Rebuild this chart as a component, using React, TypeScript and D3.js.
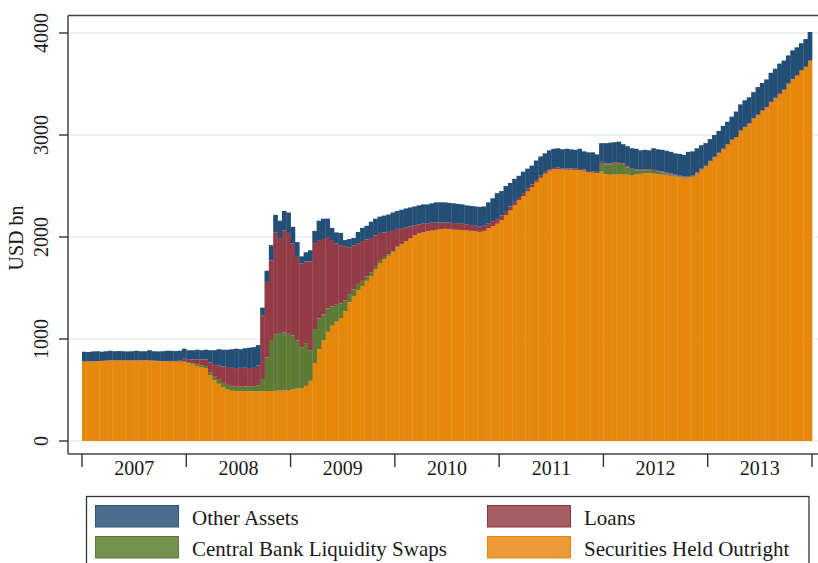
import React from 'react';
import * as d3 from 'd3';

// Semi-monthly observations, Jan 2007 – Dec 2013 (24 per year), USD bn
const years = ['2007', '2008', '2009', '2010', '2011', '2012', '2013'];
const periodsPerYear = 24;
const yTicks = [0, 1000, 2000, 3000, 4000];

const securities = [
  779, 780, 781, 782, 785, 787, 790, 791, 791, 790, 790, 790, 790, 791, 790, 789, 785, 782, 780, 780, 780, 780, 779, 772,
  762, 748, 735, 725, 715, 645, 595, 560, 525, 505, 492, 488, 487, 487, 487, 487, 487, 488, 490, 490, 492, 494, 496, 500,
  505, 515, 520, 540, 590, 765, 900, 990, 1070, 1130, 1170, 1205, 1270, 1360, 1420, 1480, 1520, 1570, 1615, 1680, 1745, 1780, 1815, 1850,
  1900, 1930, 1960, 1990, 2015, 2035, 2045, 2055, 2062, 2070, 2078, 2080, 2075, 2072, 2070, 2068, 2065, 2060, 2055, 2050, 2060, 2085, 2105, 2130,
  2165, 2215, 2260, 2310, 2360, 2400, 2445, 2490, 2535, 2580, 2620, 2650, 2662, 2665, 2662, 2660, 2660, 2658, 2655, 2650, 2635, 2630, 2625, 2640,
  2615, 2610, 2612, 2615, 2618, 2612, 2608, 2612, 2620, 2625, 2625, 2620, 2615, 2612, 2610, 2600, 2592, 2585, 2580, 2582, 2590, 2620, 2660, 2690,
  2740, 2780, 2820, 2860, 2905, 2950, 2975, 3040, 3075, 3110, 3160, 3195, 3235, 3270, 3320, 3360, 3400, 3440, 3500, 3545, 3580, 3630, 3665, 3725,
];

const swaps = [
  0, 0, 0, 0, 0, 0, 0, 0, 0, 0, 0, 0, 0, 0, 0, 0, 0, 0, 0, 0, 0, 0, 0, 10,
  12, 12, 15, 15, 20, 30, 35, 40, 45, 45, 45, 45, 45, 48, 50, 50, 60, 120, 330, 500, 555, 565, 570, 550,
  530, 470, 400, 420, 300, 325, 300, 250, 230, 190, 165, 145, 110, 80, 65, 60, 50, 45, 40, 35, 30, 25, 15, 10,
  5, 2, 0, 0, 0, 0, 0, 0, 0, 0, 0, 0, 0, 0, 0, 0, 0, 0, 0, 0, 0, 0, 0, 0,
  0, 0, 0, 0, 0, 0, 0, 0, 0, 0, 0, 0, 0, 0, 0, 0, 0, 0, 0, 0, 0, 0, 2, 85,
  95, 100, 105, 108, 90, 70, 50, 40, 30, 28, 30, 28, 25, 20, 15, 12, 10, 8, 6, 5, 4, 3, 2, 2,
  1, 1, 1, 0, 0, 0, 0, 0, 0, 0, 0, 0, 0, 0, 0, 0, 0, 0, 0, 0, 0, 0, 0, 0,
];

const loans = [
  1, 1, 1, 1, 1, 1, 1, 1, 1, 1, 1, 1, 1, 1, 3, 5, 5, 4, 4, 4, 5, 5, 8, 30,
  28, 40, 50, 60, 65, 95, 125, 140, 160, 175, 180, 182, 185, 183, 178, 180, 195, 620, 740, 780, 1000, 930, 1000, 990,
  900, 820, 820, 800, 870, 850, 770, 740, 700, 650, 600, 570, 530, 460, 430, 400, 390, 360, 335, 300, 265, 240, 220, 200,
  175, 155, 135, 115, 100, 90, 85, 80, 78, 72, 65, 62, 65, 65, 65, 62, 60, 58, 55, 52, 50, 50, 50, 48,
  45, 40, 38, 35, 32, 30, 28, 25, 22, 20, 18, 15, 15, 15, 12, 12, 12, 12, 12, 12, 12, 12, 12, 12,
  12, 12, 12, 12, 12, 12, 12, 10, 10, 10, 10, 10, 10, 10, 10, 10, 8, 8, 8, 8, 8, 8, 8, 6,
  6, 5, 5, 5, 5, 5, 5, 5, 5, 5, 5, 5, 5, 5, 5, 5, 5, 5, 5, 5, 5, 5, 5, 5,
];

const other = [
  95, 91, 96, 97, 90, 92, 94, 88, 90, 89, 87, 89, 94, 88, 87, 96, 90, 92, 96, 101, 100, 97, 98, 93,
  88, 90, 95, 90, 95, 120, 135, 160, 165, 170, 183, 190, 183, 192, 200, 203, 198, 80, 110, 150, 170, 170, 190, 200,
  165, 145, 70, 90, 110, 120, 190, 200, 180, 120, 110, 120, 60, 80, 75, 110, 130, 135, 160, 165, 160, 165, 170, 180,
  175, 180, 185, 185, 185, 185, 190, 185, 190, 198, 197, 198, 195, 193, 190, 190, 185, 187, 190, 193, 190, 205, 225, 252,
  240, 245, 232, 225, 208, 210, 197, 185, 193, 190, 182, 185, 188, 190, 186, 193, 188, 185, 198, 178, 183, 188, 171, 183,
  198, 203, 201, 200, 190, 196, 200, 203, 190, 192, 185, 212, 210, 213, 210, 213, 210, 214, 211, 240, 238, 239, 230, 222,
  213, 214, 214, 225, 220, 225, 250, 255, 260, 255, 255, 270, 270, 270, 285, 285, 295, 285, 275, 280, 275, 265, 270, 280,
];

const seriesKeys = ['securities', 'swaps', 'loans', 'other'];
const barColors: Record<string, string> = {
  securities: '#e5870b',
  swaps: '#5d7b36',
  loans: '#933b46',
  other: '#234f77',
};
const legendItems = [
  { key: 'other', label: 'Other Assets', fill: '#4a6d8e', stroke: '#2a557c' },
  { key: 'loans', label: 'Loans', fill: '#a55e63', stroke: '#8e3642' },
  { key: 'swaps', label: 'Central Bank Liquidity Swaps', fill: '#76904f', stroke: '#5d7b36' },
  { key: 'securities', label: 'Securities Held Outright', fill: '#ec9a38', stroke: '#e5870b' },
];

const FONT = '"Liberation Serif", "Times New Roman", serif';

export default function App() {
  const W = 818;
  const H = 563;
  const plotLeft = 68;
  const plotTop = 15.5;
  const plotBottom = 454;
  const n = securities.length;

  const x = d3.scaleLinear().domain([0, n]).range([82, 812]);
  const y = d3.scaleLinear().domain([0, 4000]).range([441, 33]);

  const rows = securities.map((s, i) => ({
    i,
    securities: s,
    swaps: swaps[i],
    loans: loans[i],
    other: other[i],
  }));
  const stacked = d3.stack<any>().keys(seriesKeys)(rows);
  const bw = x(1) - x(0);

  const yearEdges = d3.range(years.length + 1).map((k) => x(k * periodsPerYear));

  return (
    <svg
      width={W}
      height={H}
      style={{ position: 'absolute', left: 0, top: 0, display: 'block', background: '#fff' }}
      fontFamily={FONT}
    >
      {/* gridlines */}
      {yTicks.map((t) => (
        <line key={'g' + t} x1={plotLeft} x2={W + 10} y1={y(t)} y2={y(t)} stroke="#e7eef0" strokeWidth={1.6} />
      ))}

      {/* stacked bars */}
      {stacked.map((layer) => (
        <g key={layer.key} fill={barColors[layer.key]}>
          {layer.map((d, i) => {
            const h = y(d[0]) - y(d[1]);
            if (h <= 0) return null;
            return <rect key={i} x={x(i)} y={y(d[1])} width={bw + 0.35} height={h} />;
          })}
        </g>
      ))}

      {/* plot region frame */}
      <line x1={plotLeft} x2={plotLeft} y1={plotTop} y2={plotBottom} stroke="#444" strokeWidth={1.5} />
      <line x1={plotLeft} x2={W + 10} y1={plotTop} y2={plotTop} stroke="#444" strokeWidth={1.5} />
      <line x1={plotLeft} x2={W + 10} y1={plotBottom} y2={plotBottom} stroke="#444" strokeWidth={1.5} />

      {/* y axis ticks and labels */}
      {yTicks.map((t) => (
        <g key={'yt' + t}>
          <line x1={59} x2={plotLeft} y1={y(t)} y2={y(t)} stroke="#333" strokeWidth={1.4} />
          <text
            transform={`translate(47.5, ${y(t)}) rotate(-90)`}
            textAnchor="middle"
            fontSize={20}
            fill="#1a1a1a"
          >
            {t}
          </text>
        </g>
      ))}
      <text transform="translate(23, 238) rotate(-90)" textAnchor="middle" fontSize={20} fill="#1a1a1a">
        USD bn
      </text>

      {/* x axis ticks and year labels */}
      {yearEdges.map((xe, k) => (
        <line key={'xt' + k} x1={xe} x2={xe} y1={plotBottom} y2={467} stroke="#333" strokeWidth={1.4} />
      ))}
      {years.map((yr, k) => (
        <text
          key={yr}
          x={(yearEdges[k] + yearEdges[k + 1]) / 2}
          y={475}
          textAnchor="middle"
          fontSize={20}
          fill="#1a1a1a"
        >
          {yr}
        </text>
      ))}

      {/* legend */}
      <rect x={86.5} y={496.5} width={722.5} height={90} fill="#fff" stroke="#333" strokeWidth={1.3} />
      {legendItems.map((item, k) => {
        const col = k % 2;
        const row = Math.floor(k / 2);
        const sx = col === 0 ? 95.5 : 487.5;
        const sy = 505.5 + row * 31;
        return (
          <g key={item.key}>
            <rect x={sx} y={sy} width={83} height={21.5} fill={item.fill} stroke={item.stroke} strokeWidth={1} />
            <text x={sx + 96.5} y={sy + 19.5} fontSize={21} fill="#1a1a1a">
              {item.label}
            </text>
          </g>
        );
      })}
    </svg>
  );
}
